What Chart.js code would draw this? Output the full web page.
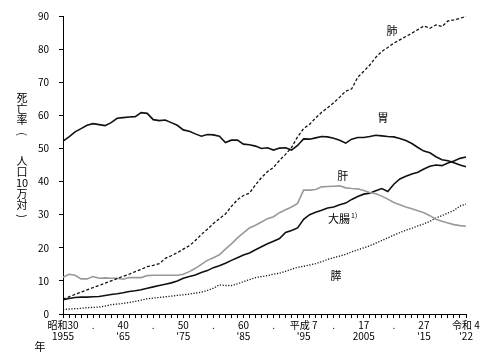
<!DOCTYPE html>
<html>
<head>
<meta charset="utf-8">
<script src="https://cdn.jsdelivr.net/npm/chart.js@4"></script>
<style>
  body { margin: 0; background: #fff; }
  #wrap { width: 483px; height: 354px; position: relative; }
</style>
</head>
<body>
<div id="wrap"><canvas id="myChart"></canvas></div>
<script>
'use strict';

/** Data */
let years = [1955, 1956, 1957, 1958, 1959, 1960, 1961, 1962, 1963, 1964,
  1965, 1966, 1967, 1968, 1969, 1970, 1971, 1972, 1973, 1974,
  1975, 1976, 1977, 1978, 1979, 1980, 1981, 1982, 1983, 1984,
  1985, 1986, 1987, 1988, 1989, 1990, 1991, 1992, 1993, 1994,
  1995, 1996, 1997, 1998, 1999, 2000, 2001, 2002, 2003, 2004,
  2005, 2006, 2007, 2008, 2009, 2010, 2011, 2012, 2013, 2014,
  2015, 2016, 2017, 2018, 2019, 2020, 2021, 2022];

let stomach = [52.2, 53.5, 55.0, 56.0, 57.0, 57.5, 57.2, 56.9, 57.8, 59.1,
  59.3, 59.5, 59.6, 60.8, 60.6, 58.7, 58.4, 58.6, 57.8, 57.0,
  55.6, 55.2, 54.4, 53.7, 54.2, 54.1, 53.7, 51.8, 52.5, 52.5,
  51.3, 51.1, 50.7, 50.0, 50.2, 49.5, 50.1, 50.2, 49.5, 50.9,
  52.9, 52.8, 53.2, 53.6, 53.5, 53.1, 52.5, 51.6, 52.8, 53.3,
  53.3, 53.6, 54.0, 53.8, 53.6, 53.5, 53.0, 52.4, 51.5, 50.3,
  49.2, 48.7, 47.5, 46.6, 46.3, 45.7, 45.0, 44.5];

let lung = [4.5, 5.2, 5.9, 6.6, 7.3, 8.0, 8.6, 9.3, 10.0, 10.7,
  11.4, 12.0, 12.8, 13.5, 14.3, 14.7, 15.2, 16.8, 17.6, 18.5,
  19.6, 20.6, 22.2, 24.0, 25.6, 27.3, 28.8, 30.2, 32.5, 34.5,
  35.8, 36.5, 39.0, 41.2, 43.0, 44.3, 46.4, 48.2, 50.3, 53.5,
  56.0, 57.3, 59.2, 60.9, 62.3, 63.8, 65.5, 67.3, 68.0, 71.5,
  73.3, 75.2, 77.5, 79.3, 80.5, 81.8, 82.8, 83.8, 84.8, 85.9,
  87.0, 86.3, 87.3, 86.8, 88.5, 88.8, 89.3, 89.9];

let liver = [11.1, 12.0, 11.7, 10.6, 10.6, 11.3, 10.8, 10.9, 10.8, 10.8,
  10.5, 11.0, 11.0, 11.0, 11.6, 11.7, 11.7, 11.7, 11.7, 11.7,
  12.0, 12.8, 13.8, 15.0, 16.2, 17.0, 17.9, 19.6, 21.2, 23.0,
  24.5, 26.0, 26.8, 27.8, 28.8, 29.4, 30.6, 31.5, 32.3, 33.4,
  37.4, 37.4, 37.6, 38.4, 38.5, 38.6, 38.7, 38.1, 37.9, 37.8,
  37.3, 36.7, 36.3, 35.6, 34.7, 33.7, 33.0, 32.3, 31.8, 31.2,
  30.6, 29.7, 28.6, 28.0, 27.5, 27.0, 26.7, 26.5];

let colorectal = [4.3, 4.7, 5.0, 5.1, 5.1, 5.2, 5.3, 5.6, 5.9, 6.1,
  6.4, 6.8, 7.0, 7.3, 7.8, 8.2, 8.6, 9.0, 9.4, 10.0,
  10.8, 11.3, 11.8, 12.5, 13.1, 14.0, 14.6, 15.3, 16.2, 17.0,
  17.8, 18.4, 19.4, 20.3, 21.2, 22.0, 22.8, 24.6, 25.2, 26.0,
  28.6, 30.0, 30.7, 31.3, 32.0, 32.3, 33.0, 33.5, 34.6, 35.5,
  36.2, 36.5, 37.2, 37.9, 37.0, 39.2, 40.8, 41.6, 42.3, 42.8,
  43.8, 44.6, 45.0, 44.8, 45.6, 46.2, 47.0, 47.4];

let pancreas = [1.3, 1.5, 1.6, 1.7, 1.9, 2.0, 2.1, 2.4, 2.8, 3.0,
  3.2, 3.5, 3.8, 4.2, 4.6, 4.8, 5.0, 5.2, 5.4, 5.6,
  5.8, 6.0, 6.3, 6.6, 7.1, 7.8, 8.8, 8.6, 8.6, 9.1,
  9.8, 10.4, 11.0, 11.3, 11.6, 12.0, 12.3, 12.9, 13.5, 14.1,
  14.4, 14.8, 15.2, 15.8, 16.5, 17.0, 17.5, 18.0, 18.8, 19.4,
  20.0, 20.6, 21.4, 22.2, 23.0, 23.8, 24.6, 25.3, 25.9, 26.6,
  27.2, 28.0, 29.0, 29.7, 30.5, 31.3, 32.6, 33.2];

// x tick labels (era year / western year)
let tickYears = [1955, 1960, 1965, 1970, 1975, 1980, 1985, 1990, 1995, 2000, 2005, 2010, 2015, 2022];
let tickTop = ['昭和30', '.', '40', '.', '50', '.', '60', '.', '平成 7', '.', '17', '.', '27', '令和 4'];
let tickBottom = ['1955', '', "'65", '', "'75", '', "'85", '', "'95", '', '2005', '', "'15", "'22"];

// series name labels: [text, year, value]
let seriesNames = ['肺', '胃', '肝', '大腸', '膵'];
let nameYears = [2009.7, 2008.2, 2001.5, 2000.9, 2000.4];
let nameValues = [85.6, 59.2, 41.7, 28.7, 11.6];

// vertical axis title, one glyph per row; brackets drawn turned
let yTitle = ['死', '亡', '率', '(', '人', '口', '10', '万', '対', ')'];
let yTitleY = [98, 109, 120, 134, 161, 172, 183, 194, 205, 216];

const FONT = "'Noto Sans CJK JP', 'DejaVu Sans', sans-serif";

/** Plugin for labels */
let textPlugin = {
  id: 'textPlugin',
  afterDraw(chart) {
    let c = chart.ctx;
    let xs = chart.scales.x;
    let ys = chart.scales.y;
    c.save();
    c.fillStyle = '#000';
    c.textAlign = 'center';
    c.textBaseline = 'middle';
    c.font = '11px ' + FONT;
    for (let i = 0; i < seriesNames.length; i++) {
      let px = xs.getPixelForValue(nameYears[i] - years[0]);
      let py = ys.getPixelForValue(nameValues[i]);
      c.fillText(seriesNames[i], px, py);
      if (seriesNames[i] === '大腸') {
        let w = c.measureText('大腸').width;
        c.font = '7px ' + FONT;
        c.textAlign = 'left';
        c.fillText('1)', px + w / 2 + 1, py - 4);
        c.font = '11px ' + FONT;
        c.textAlign = 'center';
      }
    }
    // vertical axis title
    for (let i = 0; i < yTitle.length; i++) {
      if (yTitle[i] === '(' || yTitle[i] === ')') {
        c.save();
        c.translate(22, yTitleY[i]);
        c.rotate(Math.PI / 2);
        c.fillText(yTitle[i], 0, 0);
        c.restore();
      } else {
        c.fillText(yTitle[i], 22, yTitleY[i]);
      }
    }
    c.fillText('年', 40, 347);
    c.restore();
  }
};

/** Chart */
let ctx = document.getElementById('myChart');

let chartObj = {
  type: 'line',
  data: {
    labels: years,
    datasets: [
      { label: '胃', data: stomach, borderColor: '#111', borderWidth: 1.6 },
      { label: '肺', data: lung, borderColor: '#111', borderWidth: 1.3, borderDash: [3, 2] },
      { label: '肝', data: liver, borderColor: '#999', borderWidth: 1.6 },
      { label: '大腸', data: colorectal, borderColor: '#111', borderWidth: 1.6 },
      { label: '膵', data: pancreas, borderColor: '#111', borderWidth: 1.3, borderDash: [1.2, 1.6] }
    ]
  },
  options: {
    responsive: true,
    maintainAspectRatio: false,
    animation: false,
    elements: { point: { radius: 0 }, line: { tension: 0 } },
    layout: { padding: { top: 15, right: 17, bottom: 0, left: 0 } },
    plugins: { legend: { display: false }, tooltip: { enabled: false } },
    scales: {
      x: {
        grid: { display: true, drawOnChartArea: false, drawTicks: true, tickLength: 4, color: '#000' },
        border: { display: true, color: '#000', width: 1 },
        ticks: {
          autoSkip: false,
          maxRotation: 0,
          padding: 2,
          color: '#000',
          font: { size: 10, family: FONT, lineHeight: 1.1 },
          callback: function(value, index) {
            let k = tickYears.indexOf(years[index]);
            if (k < 0) return '';
            return tickBottom[k] ? [tickTop[k], tickBottom[k]] : tickTop[k];
          }
        },
        afterFit: function(scale) { scale.height = 40; }
      },
      y: {
        min: 0,
        max: 90,
        grid: { display: true, drawOnChartArea: false, drawTicks: true, tickLength: 4, color: '#000' },
        border: { display: true, color: '#000', width: 1 },
        ticks: {
          stepSize: 10,
          padding: 10,
          color: '#000',
          font: { size: 10, family: FONT }
        },
        afterFit: function(scale) { scale.width = 63; }
      }
    }
  },
  plugins: [textPlugin]
};

new Chart(ctx, chartObj);
</script>
</body>
</html>
